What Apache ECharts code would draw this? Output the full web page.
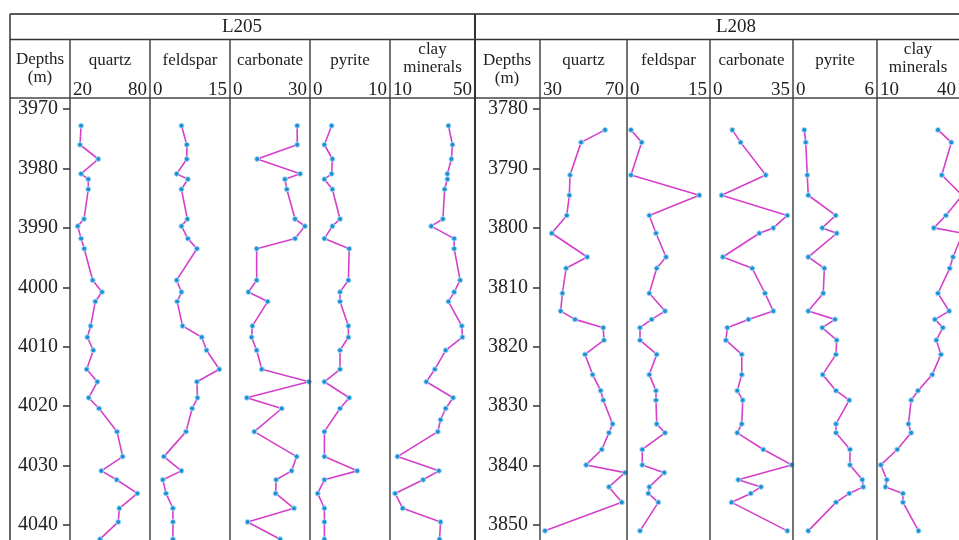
<!DOCTYPE html>
<html>
<head>
<meta charset="utf-8">
<script src="https://cdn.jsdelivr.net/npm/echarts@6/dist/echarts.min.js"></script>
<style>
html,body{margin:0;padding:0;background:#fff}
#main{width:959px;height:540px}
</style>
</head>
<body>
<div id="main"></div>
<script>
// values (depth in m, minerals in %)
const L205_depth = [3972.8, 3976.0, 3978.4, 3980.9, 3981.8, 3983.5, 3988.5, 3989.7, 3991.8, 3993.5,
  3998.8, 4000.8, 4002.4, 4006.5, 4008.4, 4010.6, 4013.8, 4015.9, 4018.6, 4020.4,
  4022.3, 4024.3, 4028.5, 4030.9, 4032.4, 4034.7, 4037.2, 4039.5, 4042.4]
const L205_quartz = [28.3, 27.5, 41.2, 28.3, 33.7, 33.7, 30.5, 25.8, 28.3, 30.7,
  37, 44, 39, 35.5, 33, 37.5, 32.5, 40.5, 34, 41.8,
  null, 55.3, 59.5, 43.5, 55, 70.5, 57, 56.2, 42.5]
const L205_feldspar = [5.9, 6.9, 6.9, 5.0, 7.1, 5.9, 7.0, 5.9, 7.1, 8.8,
  5.0, 5.9, 5.1, 6.1, 9.7, 10.6, 13.0, 8.8, 8.9, 7.9,
  null, 6.75, 2.6, 5.9, 2.4, 3.0, 4.3, 4.3, 4.3]
const L205_carbonate = [25.2, 25.2, 10.2, 26.3, 20.6, 21.3, 24.4, 28.1, 24.4, 10.0,
  10.0, 6.9, 14.1, 8.4, 8.1, 10.0, 11.9, 29.6, 6.3, 19.4,
  null, 9.1, 25.0, 23.1, 17.3, 17.1, 24.0, 6.6, 18.8]
const L205_pyrite = [2.7, 1.8, 2.8, 2.7, 1.8, 2.8, 3.75, 2.8, 1.8, 4.9,
  4.8, 3.75, 3.75, 4.8, 4.8, 3.75, 3.75, 1.8, 4.9, 3.75,
  null, 1.8, 1.8, 5.9, 1.8, 0.96, 1.8, 1.8, 1.8]
const L205_clay = [37.5, 39.4, 38.9, 37.0, 37.0, 35.7, 34.9, 29.4, 40.2, 40.2,
  43.0, 40.2, 37.5, 43.8, 44.1, 36.2, 31.1, 27.1, 39.7, 36.2,
  33.8, 32.5, 13.5, 33.0, 25.6, 12.4, 16.0, 33.8, 33.3]

const L208_depth = [3783.5, 3785.6, 3791.1, 3794.5, 3797.9, 3800.0, 3800.9, 3804.9, 3806.8, 3811.0,
  3814.0, 3815.4, 3816.8, 3818.9, 3821.3, 3824.7, 3827.4, 3829.0, 3833.0, 3834.5,
  3837.3, 3839.9, 3841.2, 3842.4, 3843.6, 3844.7, 3846.2, 3851.0]
const L208_quartz = [59.9, 48.9, 43.8, 43.5, 42.3, null, 35.4, 51.7, 42.0, 40.3,
  39.5, 46.1, 59.1, 59.4, 50.7, 54.2, 57.9, 59.1, 63.4, 61.7,
  58.4, 51.2, 69.1, null, 61.7, null, 67.6, 32.3]
const L208_feldspar = [0.72, 2.66, 0.72, 13.07, 4.03, null, 5.24, 7.05, 5.37, 4.03,
  6.87, 4.46, 2.35, 2.35, 5.37, 4.03, 5.24, 5.24, 5.37, 6.87,
  2.76, 2.76, 6.74, null, 4.03, 3.85, 5.66, 2.35]
const L208_carbonate = [9.4, 12.9, 23.5, 4.9, 32.6, 26.7, 20.8, 5.4, 17.8, 23.2,
  26.7, 16.2, 7.3, 6.7, 13.4, 13.4, 11.5, 13.8, 13.4, 11.5,
  22.5, 34.4, null, 11.9, 21.5, 17.2, 9.1, 32.6]
const L208_pyrite = [0.81, 0.91, 1.02, 1.09, 3.05, 2.09, 3.12, 1.09, 2.24, 2.16,
  1.09, 3.0, 2.09, 3.12, 3.07, 2.12, 3.07, 4.02, 3.07, 3.07,
  4.07, 4.07, null, 4.95, 5.02, 4.02, 3.07, 1.09]
const L208_clay = [32.3, 37.2, 33.7, 41.2, 35.2, 30.8, 41.4, 37.8, 36.6, 32.3,
  36.4, 31.2, 34.1, 31.7, 33.4, 30.2, 25.0, 22.5, 21.5, 22.5,
  17.4, 11.4, null, 13.6, 13.1, 19.5, 19.5, 25.2]

const L205_ticks = [3970, 3980, 3990, 4000, 4010, 4020, 4030, 4040]
const L208_ticks = [3780, 3790, 3800, 3810, 3820, 3830, 3840, 3850]

const mineral_names = ['quartz', 'feldspar', 'carbonate', 'pyrite', 'clay\nminerals']
const L205_ranges = [[20, 80], [0, 15], [0, 30], [0, 10], [10, 50]]
const L208_ranges = [[30, 70], [0, 15], [0, 35], [0, 6], [10, 40]]

// layout (px)
const L205_cols = [[70, 80], [150, 80], [230, 80], [310, 80], [390, 85]]
const L208_cols = [[540, 87], [627, 83], [710, 83], [793, 84], [877, 86]]
const plot_top = 98
const plot_h = 442
const serif = 'Liberation Serif'

let grids = [], xAxes = [], yAxes = [], series = []

function add_well(depth, cols, ranges, values, ticks, ymin, ymax) {
    cols.forEach((c, i) => {
        let idx = grids.length
        grids.push({ left: c[0], top: plot_top, width: c[1], height: plot_h, show: false })
        xAxes.push({
            gridIndex: idx, type: 'value', position: 'top',
            min: ranges[i][0], max: ranges[i][1],
            name: mineral_names[i], nameLocation: 'middle',
            nameGap: i == 4 ? 20 : 28,
            nameTextStyle: { fontFamily: serif, fontSize: 17, color: '#222', lineHeight: 18 },
            axisLine: { show: false }, axisTick: { show: false }, splitLine: { show: false },
            axisLabel: {
                customValues: ranges[i], alignMinLabel: 'left', alignMaxLabel: 'right',
                fontFamily: serif, fontSize: 19, color: '#222', margin: -2, padding: [0, 3]
            }
        })
        let first = i == 0
        yAxes.push({
            gridIndex: idx, type: 'value', inverse: true, min: ymin, max: ymax,
            splitLine: { show: false },
            axisLine: { show: false },
            axisTick: { show: first, customValues: ticks, length: 7, lineStyle: { color: '#333', width: 1.5 } },
            axisLabel: {
                show: first, customValues: ticks, fontFamily: serif, fontSize: 20, color: '#222', margin: 12,
                formatter: v => String(v)
            }
        })
        let data = []
        depth.forEach((d, j) => {
            if (values[i][j] != null) data.push([values[i][j], d])
        })
        series.push({
            type: 'line', xAxisIndex: idx, yAxisIndex: idx, data: data,
            symbol: 'circle', symbolSize: 5,
            lineStyle: { color: '#d53fc9', width: 1.6 },
            itemStyle: { color: '#1f8fd4', borderColor: '#a8dcf5', borderWidth: 1 },
            z: 3
        })
    })
}

add_well(L205_depth, L205_cols, L205_ranges,
    [L205_quartz, L205_feldspar, L205_carbonate, L205_pyrite, L205_clay], L205_ticks, 3968.13, 4042.54)
add_well(L208_depth, L208_cols, L208_ranges,
    [L208_quartz, L208_feldspar, L208_carbonate, L208_pyrite, L208_clay], L208_ticks, 3778.13, 3852.54)

// table frame
let graphic = []
let line = (x1, y1, x2, y2, w, c) => graphic.push({
    type: 'line', shape: { x1, y1, x2, y2 }, style: { stroke: c || '#444', lineWidth: w || 1.5 }, z: 10
})
line(10, 14, 959, 14, 1.5, '#222')
line(10, 39.5, 959, 39.5, 1.5, '#333')
line(10, 98, 959, 98, 1.5, '#444')
line(10, 14, 10, 540, 1.5, '#333')
line(475, 14, 475, 540, 2, '#333')
;[70, 150, 230, 310, 390, 540, 627, 710, 793, 877].forEach(x => line(x, 39.5, x, 540))
let text = (t, x, y, size) => graphic.push({
    type: 'text', x, y, style: { text: t, fontFamily: serif, fontSize: size, fill: '#222', align: 'center', verticalAlign: 'middle' }
})
text('L205', 242, 27, 19)
text('L208', 736, 27, 19)
text('Depths', 40, 60, 17)
text('(m)', 40, 78, 17)
text('Depths', 507, 61, 17)
text('(m)', 507, 79, 17)

const chart = echarts.init(document.getElementById('main'))
chart.setOption({
    animation: false,
    grid: grids, xAxis: xAxes, yAxis: yAxes, series: series,
    graphic: graphic
})
</script>
</body>
</html>
